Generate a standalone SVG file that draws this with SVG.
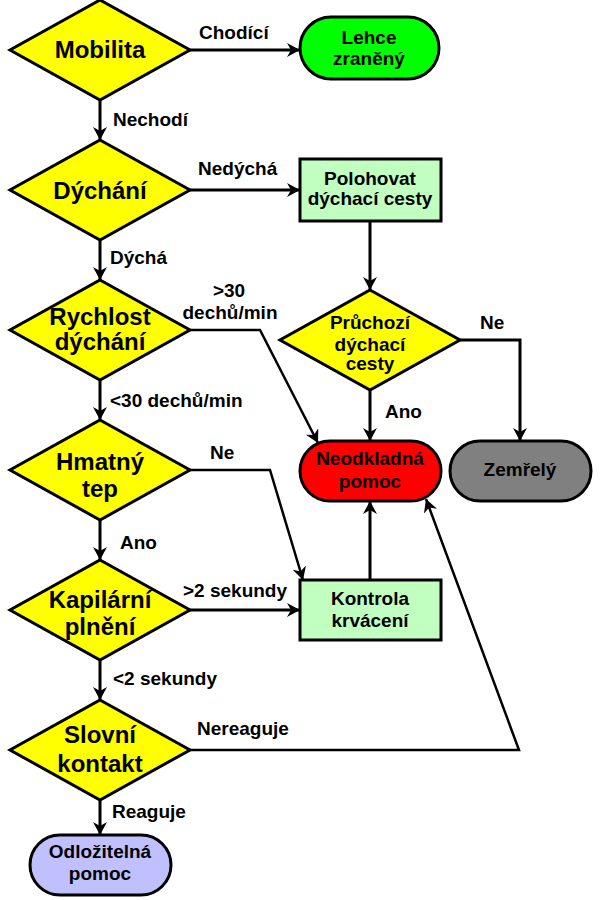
<svg xmlns="http://www.w3.org/2000/svg" width="600" height="900" viewBox="0 0 600 900">
<defs>
<marker id="arr" markerUnits="userSpaceOnUse" markerWidth="14" markerHeight="14" refX="13" refY="7" orient="auto">
<path d="M0,0 L13,7 L0,14 L4,7 z" fill="#000"/>
</marker>
<style>
text{font-family:"Liberation Sans",Arial,sans-serif;font-weight:bold;fill:#000}
.dt{font-size:24px;text-anchor:middle}
.nt{font-size:19px;text-anchor:middle}
.lb{font-size:19px}
.dia{fill:#ffff00;stroke:#000;stroke-width:3;stroke-linejoin:miter}
.box{stroke:#000;stroke-width:3}
.ln{fill:none;stroke:#000;stroke-width:3;marker-end:url(#arr)}
.dg{fill:none;stroke:#000;stroke-width:2.5;marker-end:url(#arr)}
</style>
</defs>
<rect width="600" height="900" fill="#fff"/>
<g id="connectors">
<path class="ln" d="M190,50 H300"/>
<path class="ln" d="M100,100 V140"/>
<path class="ln" d="M190,190 H300"/>
<path class="ln" d="M100,240 V280"/>
<path class="ln" d="M370,221 V290"/>
<path class="dg" d="M190,330 H260 L318,443"/>
<path class="ln" d="M370,390 V441"/>
<path class="ln" d="M460,340 H520 V441"/>
<path class="ln" d="M100,380 V420"/>
<path class="dg" d="M190,470 H270 L303,580"/>
<path class="ln" d="M100,520 V560"/>
<path class="ln" d="M190,610 H300"/>
<path class="ln" d="M370,580 V501"/>
<path class="ln" d="M100,660 V700"/>
<path class="dg" d="M190,750 H519 L426,499"/>
<path class="ln" d="M100,800 V835"/>
<text class="lb" x="199" y="39">Chodící</text>
<text class="lb" x="113" y="126">Nechodí</text>
<text class="lb" x="198" y="175">Nedýchá</text>
<text class="lb" x="110" y="264">Dýchá</text>
<text class="lb" x="229" y="297" text-anchor="middle">&gt;30</text>
<text class="lb" x="230" y="319" text-anchor="middle">dechů/min</text>
<text class="lb" x="110" y="407">&lt;30 dechů/min</text>
<text class="lb" x="480" y="329">Ne</text>
<text class="lb" x="385" y="418">Ano</text>
<text class="lb" x="210" y="459">Ne</text>
<text class="lb" x="120" y="549">Ano</text>
<text class="lb" x="183" y="597">&gt;2 sekundy</text>
<text class="lb" x="113" y="685">&lt;2 sekundy</text>
<text class="lb" x="197" y="735">Nereaguje</text>
<text class="lb" x="112" y="818">Reaguje</text>
</g>
<g id="mobilita">
<polygon class="dia" points="100,0 190,50 100,100 10,50"/>
<text class="dt" x="100" y="58">Mobilita</text>
</g>
<g id="lehce">
<rect class="box" x="300" y="17" width="139" height="62" rx="31" fill="#00ff00"/>
<text class="nt" x="369" y="44">Lehce</text>
<text class="nt" x="369" y="65">zraněný</text>
</g>
<g id="dychani">
<polygon class="dia" points="100,140 190,190 100,240 10,190"/>
<text class="dt" x="100" y="199">Dýchání</text>
</g>
<g id="polohovat">
<rect class="box" x="300" y="159" width="141" height="62" fill="#c0ffc0"/>
<text class="nt" x="370" y="185">Polohovat</text>
<text class="nt" x="370" y="205">dýchací cesty</text>
</g>
<g id="rychlost">
<polygon class="dia" points="100,280 190,330 100,380 10,330"/>
<text class="dt" x="100" y="325">Rychlost</text>
<text class="dt" x="100" y="350">dýchání</text>
</g>
<g id="pruchozi">
<polygon class="dia" points="370,290 460,340 370,390 280,340"/>
<text class="nt" x="370" y="329">Průchozí</text>
<text class="nt" x="370" y="351">dýchací</text>
<text class="nt" x="370" y="370">cesty</text>
</g>
<g id="neodkladna">
<rect class="box" x="300" y="441" width="141" height="60" rx="30" fill="#ff0000"/>
<text class="nt" x="370" y="465">Neodkladná</text>
<text class="nt" x="370" y="488">pomoc</text>
</g>
<g id="zemrely">
<rect class="box" x="450" y="441" width="141" height="60" rx="30" fill="#808080"/>
<text class="nt" x="520" y="476">Zemřelý</text>
</g>
<g id="hmatny">
<polygon class="dia" points="100,420 190,470 100,520 10,470"/>
<text class="dt" x="100" y="470">Hmatný</text>
<text class="dt" x="100" y="497">tep</text>
</g>
<g id="kapilarni">
<polygon class="dia" points="100,560 190,610 100,660 10,610"/>
<text class="dt" x="100" y="608">Kapilární</text>
<text class="dt" x="100" y="635">plnění</text>
</g>
<g id="kontrola">
<rect class="box" x="300" y="580" width="141" height="60" fill="#c0ffc0"/>
<text class="nt" x="370" y="605">Kontrola</text>
<text class="nt" x="370" y="627">krvácení</text>
</g>
<g id="slovni">
<polygon class="dia" points="100,700 190,750 100,800 10,750"/>
<text class="dt" x="100" y="743">Slovní</text>
<text class="dt" x="100" y="772">kontakt</text>
</g>
<g id="odlozitelna">
<rect class="box" x="30" y="835" width="141" height="60" rx="30" fill="#c0c0ff"/>
<text class="nt" x="100" y="858">Odložitelná</text>
<text class="nt" x="100" y="880">pomoc</text>
</g>
</svg>
